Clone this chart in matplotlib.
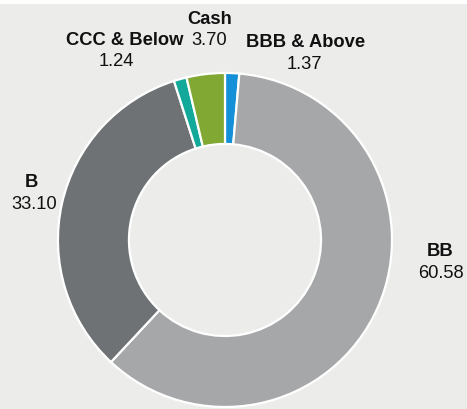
import matplotlib.pyplot as plt

plt.rcParams['font.family'] = ['Liberation Sans', 'DejaVu Sans']

# slices, clockwise from 12 o'clock
categories = ['BBB & Above', 'BB', 'B', 'CCC & Below', 'Cash']
values = [1.37, 60.58, 33.10, 1.24, 3.70]
colors = ['#1490d8', '#a6a7a9', '#6e7274', '#12a99b', '#80a832']

# label anchor points (pie units, radius = 1)
label_x = [0.485, 1.287, -1.156, -0.60, -0.09]
label_y = [1.186, -0.06, 0.353, 1.198, 1.329]
value_dx = [-0.012, 0.006, 0.012, -0.053, -0.006]
value_dy = [-0.132, -0.132, -0.137, -0.126, -0.131]

fig = plt.figure(figsize=(4.67, 4.10), dpi=100)
fig.patch.set_facecolor('white')
ax = fig.add_axes([0, 0, 1, 405 / 410])

ax.pie(values, colors=colors, startangle=90, counterclock=False, radius=1,
       wedgeprops=dict(width=0.425, edgecolor='white', linewidth=1.6))

for i, cat in enumerate(categories):
    ax.text(label_x[i], label_y[i], cat, ha='center', va='center',
            fontsize=13.2, fontweight='bold', color='#111111')
    ax.text(label_x[i] + value_dx[i], label_y[i] + value_dy[i], '%.2f' % values[i],
            ha='center', va='center', fontsize=13.2, color='#111111')

ax.set_xlim(-1.347, 1.449)
ax.set_ylim(-1.012, 1.413)
ax.set_aspect('auto')
ax.set_frame_on(True)
ax.set_facecolor('#ecedeb')
ax.set_xticks([])
ax.set_yticks([])
for s in ax.spines.values():
    s.set_visible(False)

plt.savefig('out.png', dpi=100, facecolor=fig.get_facecolor())
